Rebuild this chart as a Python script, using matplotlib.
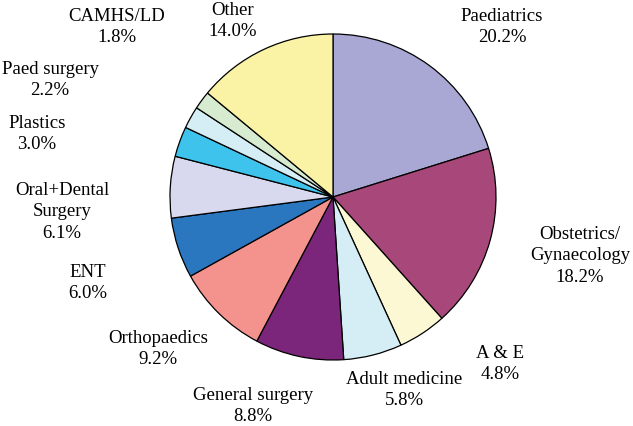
import matplotlib.pyplot as plt

labels = ["Paediatrics", "Obstetrics/\nGynaecology", "A & E", "Adult medicine",
          "General surgery", "Orthopaedics", "ENT", "Oral+Dental\nSurgery",
          "Plastics", "Paed surgery", "CAMHS/LD", "Other"]
values = [20.2, 18.2, 4.8, 5.8, 8.8, 9.2, 6.0, 6.1, 3.0, 2.2, 1.8, 14.0]
colors = ["#a9a7d3", "#a84779", "#fcf8d4", "#d5edf4", "#7b267a", "#f4928e",
          "#2a77bf", "#d8d8ee", "#3ec3ec", "#d5edf4", "#d6ebcf", "#faf3a6"]

# label centres in pixels (x, y from top)
label_pos = [(502, 27), (580, 256), (500, 364), (404, 390), (253, 406),
             (158, 349), (88, 283), (62, 212), (37, 134), (50, 80),
             (117, 27), (233, 21)]

W, H = 633, 426
fig = plt.figure(figsize=(W / 100, H / 100), dpi=100)
ax = fig.add_axes([0, 0, 1, 1])

cx, cy, r = 333, H - 197, 163
ax.pie(values, colors=colors, startangle=90, counterclock=False,
       center=(cx, cy), radius=r,
       wedgeprops=dict(edgecolor="black", linewidth=0.9))
ax.set_xlim(0, W)
ax.set_ylim(0, H)
ax.set_aspect("equal")
ax.axis("off")

for lab, v, (x, y) in zip(labels, values, label_pos):
    ax.text(x, H - y, f"{lab}\n{v:.1f}%", ha="center", va="center",
            fontsize=13.5, family="Liberation Serif", linespacing=1.36)

fig.savefig("out.png", dpi=100)
